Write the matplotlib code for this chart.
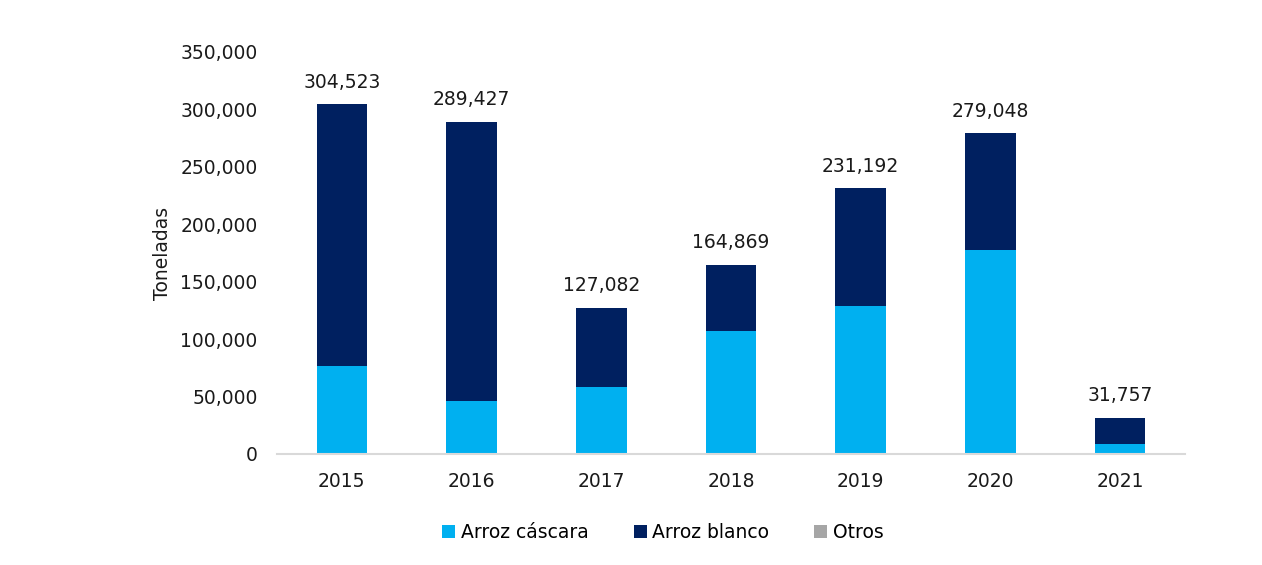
import numpy as np
import matplotlib.pyplot as plt

# datos (toneladas)
anios = ['2015', '2016', '2017', '2018', '2019', '2020', '2021']
totales = [304523, 289427, 127082, 164869, 231192, 279048, 31757]
cascara = [76600, 46100, 58300, 107100, 128900, 177600, 8700]
otros = [0, 0, 0, 0, 0, 0, 0]
blanco = [t - c - o for t, c, o in zip(totales, cascara, otros)]

c_cascara = '#00B0F0'
c_blanco = '#002060'
c_otros = '#A6A6A6'

plt.rcParams['font.family'] = ['DejaVu Sans']

fig = plt.figure(figsize=(12.62, 5.65), dpi=100)
ax = fig.add_axes([0.2195, 0.1965, 0.7195, 0.7115])

x = np.arange(len(anios))
ancho = 0.39
ax.bar(x, cascara, ancho, color=c_cascara, label='Arroz cáscara')
ax.bar(x, blanco, ancho, bottom=cascara, color=c_blanco, label='Arroz blanco')
base = [c + b for c, b in zip(cascara, blanco)]
ax.bar(x, otros, ancho, bottom=base, color=c_otros, label='Otros')

for i, t in enumerate(totales):
    ax.text(x[i], t + 11000, f'{t:,}', ha='center', va='bottom', fontsize=13.5,
            color='#1a1a1a')

ax.set_xlim(-0.5, len(anios) - 0.5)
ax.set_ylim(0, 350000)
ax.set_yticks(np.arange(0, 350001, 50000))
ax.set_yticklabels([f'{v:,}' for v in range(0, 350001, 50000)])
ax.set_xticks(x)
ax.set_xticklabels(anios)
ax.tick_params(axis='both', length=0, labelsize=13.5, labelcolor='#1a1a1a')
ax.tick_params(axis='x', pad=13)
ax.tick_params(axis='y', pad=14)
ax.set_ylabel('Toneladas', fontsize=13.5, labelpad=6, color='#1a1a1a')

for s in ['top', 'right', 'left']:
    ax.spines[s].set_visible(False)
ax.spines['bottom'].set_color('#D9D9D9')
ax.spines['bottom'].set_linewidth(1.5)

ax.legend(loc='upper center', bbox_to_anchor=(0.425, -0.13), ncol=3, frameon=False,
          fontsize=13.5, handlelength=0.7, handleheight=0.7, handletextpad=0.3,
          columnspacing=2.4)

fig.savefig('out.png', dpi=100, facecolor='white')
